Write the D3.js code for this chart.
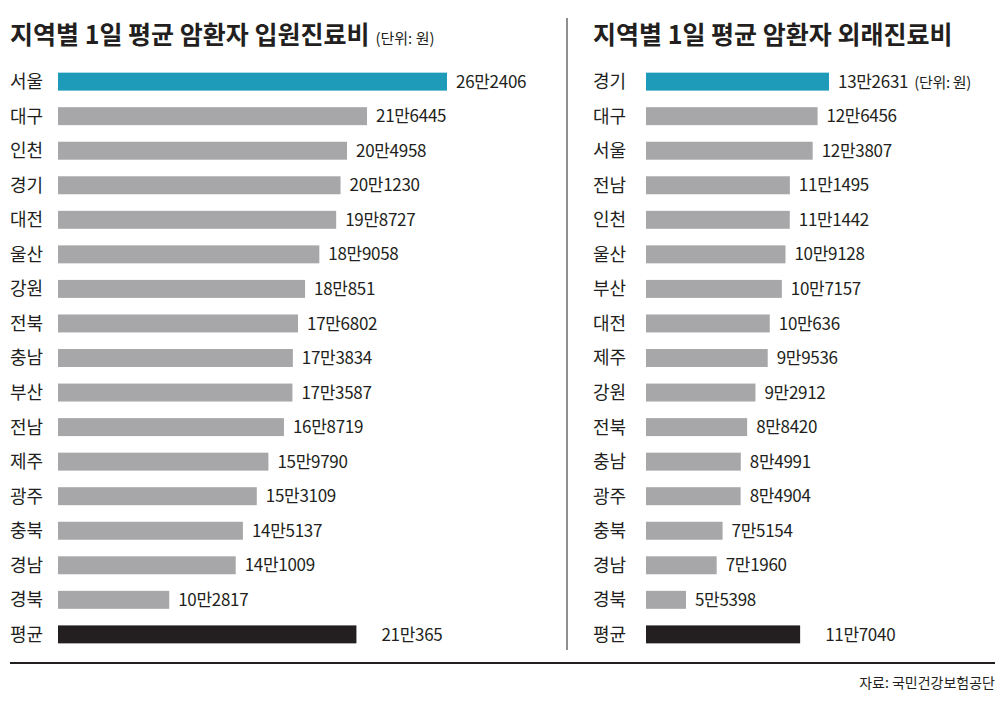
<!DOCTYPE html><html><head><meta charset="utf-8">
<script src="https://cdn.jsdelivr.net/npm/d3@7"></script>
<style>body{margin:0;background:#fff}text{font-family:"Noto Sans CJK KR","Noto Sans",sans-serif}</style></head>
<body><svg id="c" width="1000" height="708"></svg>
<script>
const inRegions=["서울","대구","인천","경기","대전","울산","강원","전북","충남","부산","전남","제주","광주","충북","경남","경북","평균"];
const inValues=[262406,216445,204958,201230,198727,189058,180851,176802,173834,173587,168719,159790,153109,145137,141009,102817,210365];
const outRegions=["경기","대구","서울","전남","인천","울산","부산","대전","제주","강원","전북","충남","광주","충북","경남","경북","평균"];
const outValues=[132631,126456,123807,111495,111442,109128,107157,100636,99536,92912,88420,84991,84904,75154,71960,55398,117040];
const svg=d3.select("#c");
const fmt=v=>Math.floor(v/10000)+"만"+(v%10000);
const y=d3.scaleBand().domain(d3.range(17)).range([64,652]).paddingInner(0.48).paddingOuter(0.25);
function panel(x0,off,title,unit,regions,values,dom,r1,unitRight){
  const x=d3.scaleLinear().domain(dom).range([x0+off,r1]);
  svg.append("text").attr("x",x0).attr("y",44).attr("font-size",25).attr("font-weight",700).attr("fill","#231f20").text(title)
   .append("tspan").attr("font-size",15).attr("font-weight",400).attr("dx",6).text(unit);
  const g=svg.append("g");
  regions.forEach((r,i)=>{
    const c=i==16?"#231f20":(i==0?"#1d9bb9":"#a7a7a9");
    g.append("text").attr("x",x0).attr("y",y(i)+y.bandwidth()/2).attr("dy","0.36em").attr("font-size",18).attr("fill","#231f20").text(r);
    g.append("rect").attr("x",x(dom[0])).attr("y",y(i)).attr("width",x(values[i])-x(dom[0])).attr("height",y.bandwidth()).attr("fill",c);
    const t=g.append("text").attr("x",x(values[i])+(i==16?25:9)).attr("y",y(i)+y.bandwidth()/2).attr("dy","0.36em").attr("font-size",17).attr("letter-spacing",-0.3).attr("fill","#231f20").text(fmt(values[i]));
    if(i==0&&unitRight) t.append("tspan").attr("dx",6).attr("font-size",15).text(unitRight);
  });
}
panel(10,48,"지역별 1일 평균 암환자 입원진료비","(단위: 원)",inRegions,inValues,[38900,262406],447,null);
panel(593,53,"지역별 1일 평균 암환자 외래진료비","",outRegions,outValues,[33800,132631],829,"(단위: 원)");
svg.append("line").attr("x1",567).attr("x2",567).attr("y1",18).attr("y2",650).attr("stroke","#231f20").attr("stroke-width",1);
svg.append("line").attr("x1",10).attr("x2",995).attr("y1",663).attr("y2",663).attr("stroke","#231f20").attr("stroke-width",2);
svg.append("text").attr("x",995).attr("y",688).attr("text-anchor","end").attr("font-size",14).attr("fill","#231f20").text("자료: 국민건강보험공단");
</script></body></html>
